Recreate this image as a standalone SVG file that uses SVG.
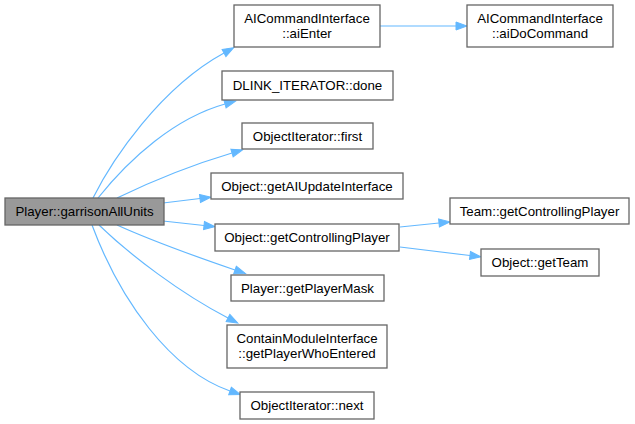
<svg xmlns="http://www.w3.org/2000/svg" width="635" height="424" viewBox="0 0 635 424">
<style>
.node rect{fill:#fff;stroke:#666;stroke-width:1.3}
.node.main rect{fill:#999}
.node text{font-family:"Liberation Sans",Arial,sans-serif;font-size:13.3px;fill:#000;text-anchor:middle}
.edges path{fill:none;stroke:#63b8ff;stroke-width:1.2;marker-end:url(#ah)}
</style>
<defs>
<marker id="ah" markerUnits="userSpaceOnUse" markerWidth="12" markerHeight="9" refX="0" refY="4" orient="auto" overflow="visible">
<path d="M0,0 L11,4 L0,8 z" fill="#63b8ff" stroke="#63b8ff" stroke-width="1"/>
</marker>
</defs>
<rect width="635" height="424" fill="#fff"/>
<g class="edges">
<path d="M93,198 C112,160 160,88 224,53"/>
<path d="M98,198 C130,158 175,118 225,104"/>
<path d="M117,198 C150,182 195,164 232,153"/>
<path d="M163,203 L200,198.5"/>
<path d="M163,221 L204,225.5"/>
<path d="M117,225 C150,240 200,258 235,270"/>
<path d="M99,225 C130,255 180,293 228,318"/>
<path d="M92,225 C120,300 170,370 230,391"/>
<path d="M380,26 L456,26"/>
<path d="M400,227 L439,223"/>
<path d="M400,247 L470,255.5"/>
</g>
<g id="n0" class="node main"><rect x="5" y="198" width="159" height="27"/><text x="84.5" y="216">Player::garrisonAllUnits</text></g>
<g id="n1" class="node"><rect x="234" y="5" width="146" height="42"/><text x="307" y="22.5">AICommandInterface</text><text x="307" y="37.5">::aiEnter</text></g>
<g id="n2" class="node"><rect x="467" y="5" width="146" height="42"/><text x="540" y="22.5">AICommandInterface</text><text x="540" y="37.5">::aiDoCommand</text></g>
<g id="n3" class="node"><rect x="222" y="71" width="171" height="29"/><text x="307.5" y="90">DLINK_ITERATOR::done</text></g>
<g id="n4" class="node"><rect x="242" y="123" width="131" height="26"/><text x="307.5" y="140.5">ObjectIterator::first</text></g>
<g id="n5" class="node"><rect x="211" y="173" width="192" height="26"/><text x="307" y="190.5">Object::getAIUpdateInterface</text></g>
<g id="n6" class="node"><rect x="215" y="224" width="184" height="27"/><text x="307" y="242">Object::getControllingPlayer</text></g>
<g id="n7" class="node"><rect x="231" y="275" width="153" height="26"/><text x="307.5" y="292.5">Player::getPlayerMask</text></g>
<g id="n8" class="node"><rect x="227" y="325" width="160" height="43"/><text x="307" y="343">ContainModuleInterface</text><text x="307" y="358">::getPlayerWhoEntered</text></g>
<g id="n9" class="node"><rect x="240" y="392" width="134" height="27"/><text x="307" y="410">ObjectIterator::next</text></g>
<g id="n10" class="node"><rect x="450" y="198" width="179" height="26"/><text x="539.5" y="215.5">Team::getControllingPlayer</text></g>
<g id="n11" class="node"><rect x="481" y="249" width="118" height="27"/><text x="540" y="267">Object::getTeam</text></g>
</svg>
